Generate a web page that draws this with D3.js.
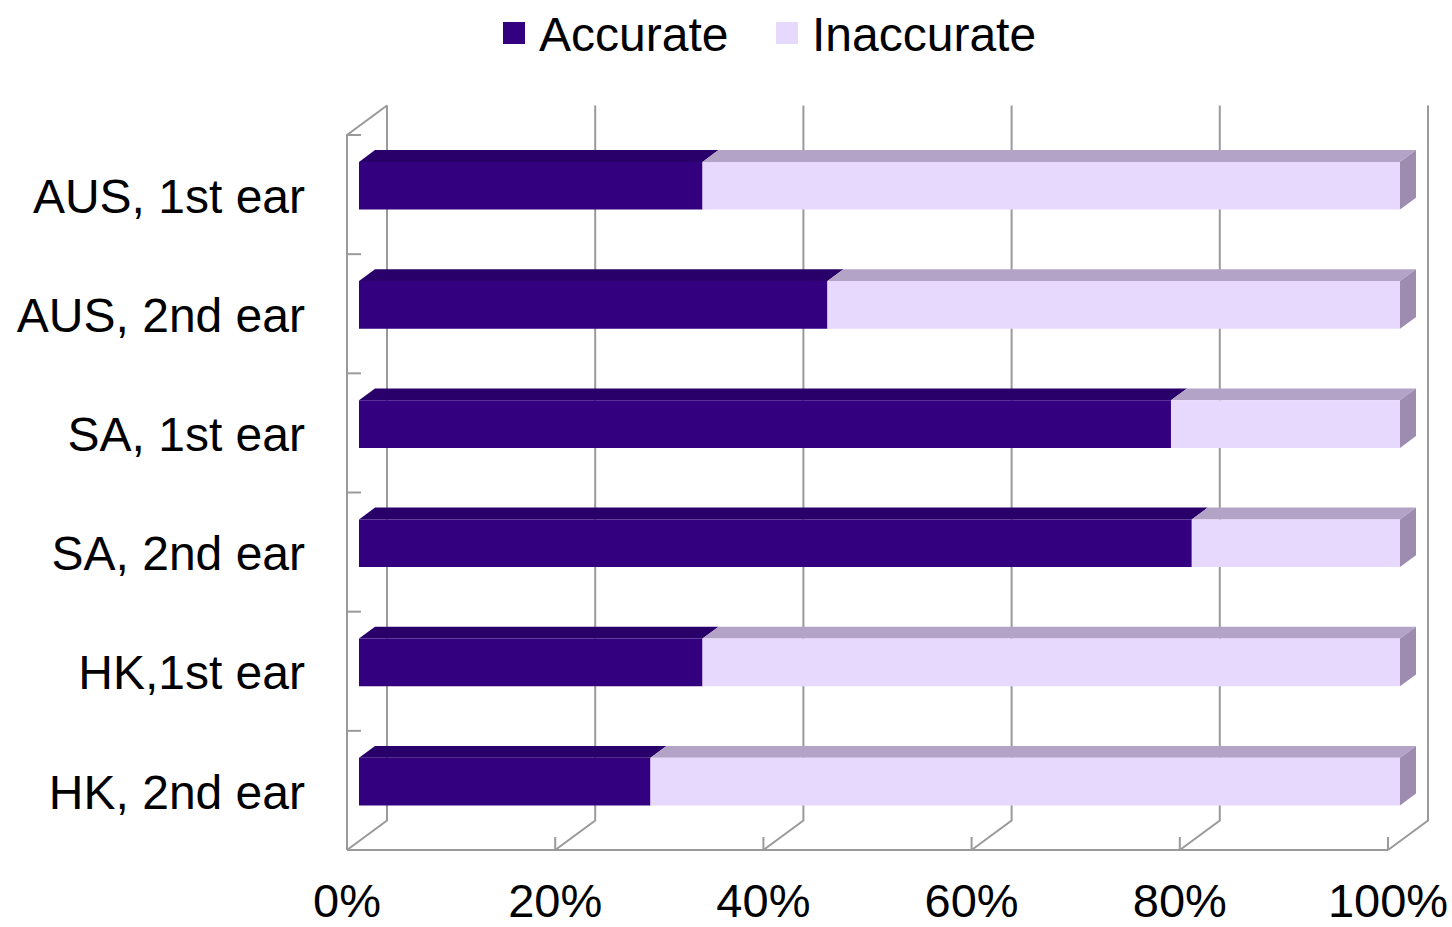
<!DOCTYPE html>
<html>
<head>
<meta charset="utf-8">
<script src="https://cdn.jsdelivr.net/npm/d3@7"></script>
<style>
  body { margin: 0; background: #fff; }
  text { font-family: "Liberation Sans", Arial, sans-serif; fill: #000; }
</style>
</head>
<body>
<svg></svg>
<script>
var width = 1452, height = 927;

var categories = ['AUS, 1st ear', 'AUS, 2nd ear', 'SA, 1st ear', 'SA, 2nd ear', 'HK,1st ear', 'HK, 2nd ear'];
var accurate = [33, 45, 78, 80, 33, 28];
var inaccurate = [67, 55, 22, 20, 67, 72];
var seriesNames = ['Accurate', 'Inaccurate'];
var xTicks = [0, 20, 40, 60, 80, 100];

var colors = {
  Accurate:   { front: '#330080', top: '#29006a', side: '#240058' },
  Inaccurate: { front: '#e7d8fd', top: '#b3a3c6', side: '#9d8cb0' }
};

var svg = d3.select('svg').attr('width', width).attr('height', height);

// front plane scales
var x = d3.scaleLinear().domain([0, 100]).range([347, 1388]);
var y = d3.scaleBand().domain(categories).range([135, 850])
  .paddingInner(0.6).paddingOuter(0.3);

// depth projection: d in [0,1] -> offset
var depthX = 40, depthY = 29.5;
function P(px, py, d) { return [px + depthX * d, py - depthY * d]; }
var d0 = 0.3, d1 = 0.7;

var grid = svg.append('g')
  .attr('fill', 'none').attr('stroke', '#9a9a9a').attr('stroke-width', 2);

// back wall verticals + floor diagonals
xTicks.forEach(function(t) {
  var top = P(x(t), y.range()[0], 1);
  var back = P(x(t), y.range()[1], 1);
  grid.append('path')
    .attr('d', d3.line()([top, back, [x(t), y.range()[1]]]));
});

// left wall
var wallTop = P(x(0), y.range()[0], 1);
grid.append('path')
  .attr('d', d3.line()([[x(0), y.range()[1]], [x(0), y.range()[0]], wallTop]));

// front floor axis
grid.append('line')
  .attr('x1', x(0)).attr('x2', x(100))
  .attr('y1', y.range()[1]).attr('y2', y.range()[1]);

// x ticks on front edge
xTicks.forEach(function(t) {
  grid.append('line')
    .attr('x1', x(t)).attr('x2', x(t))
    .attr('y1', y.range()[1]).attr('y2', y.range()[1] - 13);
});

// category ticks on left wall
d3.range(categories.length + 1).forEach(function(i) {
  var ty = y.range()[0] + i * y.step();
  grid.append('line')
    .attr('x1', x(0)).attr('x2', x(0) + 14)
    .attr('y1', ty).attr('y2', ty);
});

// bars
var bars = svg.append('g');
categories.forEach(function(c, i) {
  var yt = y(c), yb = y(c) + y.bandwidth();
  var segs = [
    { name: 'Accurate', a: 0, b: accurate[i] },
    { name: 'Inaccurate', a: accurate[i], b: accurate[i] + inaccurate[i] }
  ];
  segs.forEach(function(s) {
    var xa = x(s.a), xb = x(s.b), col = colors[s.name];
    // top face
    bars.append('path')
      .attr('fill', col.top)
      .attr('d', d3.line()([P(xa, yt, d0), P(xb, yt, d0), P(xb, yt, d1), P(xa, yt, d1)]) + 'Z');
    // front face
    bars.append('path')
      .attr('fill', col.front)
      .attr('d', d3.line()([P(xa, yt, d0), P(xb, yt, d0), P(xb, yb, d0), P(xa, yb, d0)]) + 'Z');
  });
  // right side face of stack
  var xe = x(accurate[i] + inaccurate[i]);
  bars.append('path')
    .attr('fill', colors.Inaccurate.side)
    .attr('d', d3.line()([P(xe, yt, d0), P(xe, yb, d0), P(xe, yb, d1), P(xe, yt, d1)]) + 'Z');
});

// category labels
svg.append('g').selectAll('text').data(categories)
  .enter().append('text')
    .attr('x', 305)
    .attr('y', function(d) { return y(d) + y.bandwidth() / 2; })
    .attr('dy', '0.38em')
    .attr('text-anchor', 'end')
    .attr('font-size', 48)
    .text(function(d) { return d; });

// x labels
svg.append('g').selectAll('text').data(xTicks)
  .enter().append('text')
    .attr('x', function(d) { return x(d); })
    .attr('y', 917)
    .attr('text-anchor', 'middle')
    .attr('font-size', 47)
    .text(function(d) { return d + '%'; });

// legend
var legendX = [503, 776];
var legend = svg.append('g');
seriesNames.forEach(function(n, i) {
  legend.append('rect')
    .attr('x', legendX[i]).attr('y', 22)
    .attr('width', 22).attr('height', 22)
    .attr('fill', colors[n].front);
  legend.append('text')
    .attr('x', legendX[i] + 36).attr('y', 51)
    .attr('font-size', 48)
    .text(n);
});
</script>
</body>
</html>
